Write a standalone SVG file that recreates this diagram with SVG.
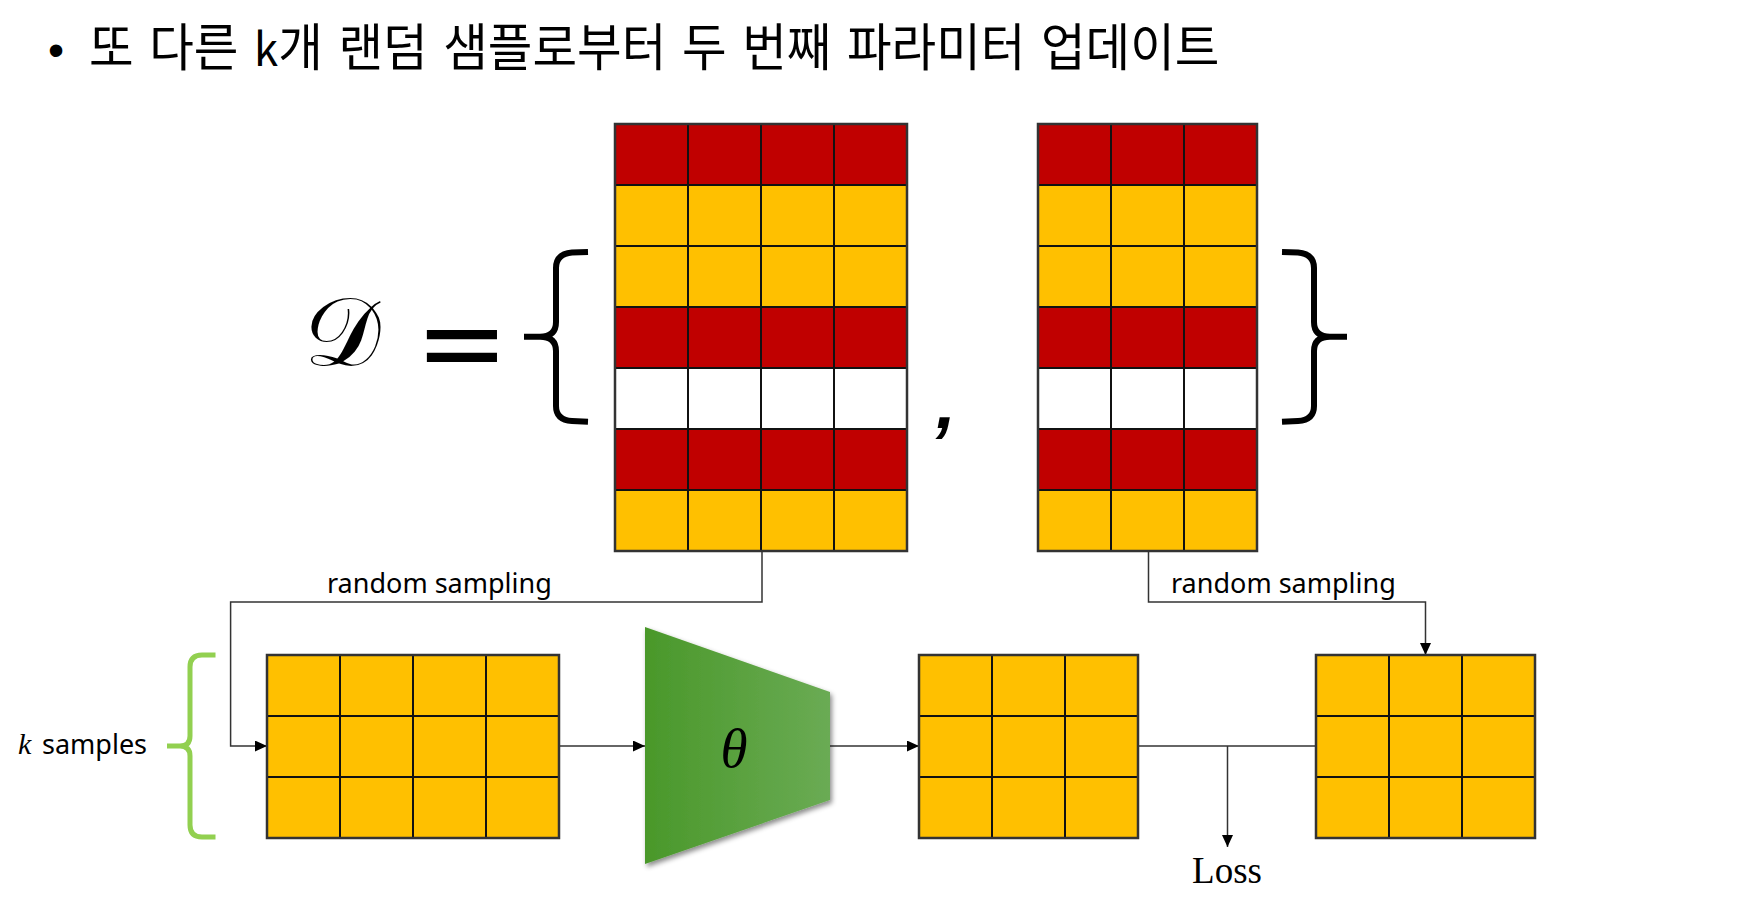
<svg xmlns="http://www.w3.org/2000/svg" width="1764" height="897" viewBox="0 0 1764 897">
<style>
.red{fill:#C00000}.yel{fill:#FFC000}.wht{fill:#FFFFFF}
.grid{stroke:#111;stroke-width:2;fill:none}
.outer{stroke:#333;stroke-width:2.5;fill:none}
.conn{stroke:#333;stroke-width:1.5;fill:none}
.lbl{font-family:"Noto Sans","Liberation Sans",sans-serif;font-size:27px;fill:#000}
.brace{fill:none;stroke:#000;stroke-width:6;stroke-linejoin:round}
.ttl{font-family:"Noto Sans CJK KR","Noto Sans",sans-serif;font-size:51px;fill:#000}
</style>
<defs>
<marker id="arr" markerWidth="12" markerHeight="11" refX="12" refY="5.5" orient="auto" markerUnits="userSpaceOnUse"><path d="M0,0 L12,5.5 L0,11 Z" fill="#000"/></marker>
<linearGradient id="gr" x1="0" y1="0" x2="1" y2="0"><stop offset="0" stop-color="#4A982A"/><stop offset="1" stop-color="#6AAB54"/></linearGradient>
<filter id="sh" x="-10%" y="-10%" width="130%" height="130%"><feDropShadow dx="2" dy="3" stdDeviation="2.5" flood-color="#000" flood-opacity="0.45"/></filter>
</defs>
<rect width="1764" height="897" fill="#fff"/>

<g id="title">
<text x="48" y="66" font-family="Liberation Sans,sans-serif" font-size="46" fill="#000">•</text>
<text class="ttl" x="93.6" y="66" transform="scale(0.951,1)" word-spacing="5">또 다른 <tspan style="font-size:46px">k</tspan>개 랜덤 샘플로부터 두 번째 파라미터 업데이트</text>
</g>

<g id="dataset-label">
<text x="304" y="365" font-family="'DejaVu Serif','Liberation Serif',serif" font-size="96" fill="#000">𝒟</text>
<text x="415" y="381" font-family="'DejaVu Sans',sans-serif" font-size="112" fill="#000">=</text>
<path class="brace" d="M588,252 L572,252.5 Q556,254 556,268 L556,322 Q556,336.7 540,336.7 L524,336.7 M540,336.7 Q556,336.7 556,351 L556,406 Q556,420 572,421 L588,421.7"/>
<text x="936" y="428" font-family="'Liberation Sans',sans-serif" font-weight="bold" font-style="italic" font-size="72" fill="#000">,</text>
<path class="brace" d="M1282,252 L1298,252.5 Q1314,254 1314,268 L1314,322 Q1314,336.7 1330,336.7 L1347,336.7 M1330,336.7 Q1314,336.7 1314,351 L1314,406 Q1314,420 1298,421 L1282,421.7"/>
</g>

<g id="dataset-left">
<rect class="red" x="615" y="124" width="292" height="61"/>
<rect class="yel" x="615" y="185" width="292" height="61"/>
<rect class="yel" x="615" y="246" width="292" height="61"/>
<rect class="red" x="615" y="307" width="292" height="61"/>
<rect class="wht" x="615" y="368" width="292" height="61"/>
<rect class="red" x="615" y="429" width="292" height="61"/>
<rect class="yel" x="615" y="490" width="292" height="61"/>
<path class="grid" d="M688,124V551M761,124V551M834,124V551M615,185H907M615,246H907M615,307H907M615,368H907M615,429H907M615,490H907"/>
<rect class="outer" x="615" y="124" width="292" height="427"/>
</g>

<g id="dataset-right">
<rect class="red" x="1038" y="124" width="219" height="61"/>
<rect class="yel" x="1038" y="185" width="219" height="61"/>
<rect class="yel" x="1038" y="246" width="219" height="61"/>
<rect class="red" x="1038" y="307" width="219" height="61"/>
<rect class="wht" x="1038" y="368" width="219" height="61"/>
<rect class="red" x="1038" y="429" width="219" height="61"/>
<rect class="yel" x="1038" y="490" width="219" height="61"/>
<path class="grid" d="M1111,124V551M1184,124V551M1038,185H1257M1038,246H1257M1038,307H1257M1038,368H1257M1038,429H1257M1038,490H1257"/>
<rect class="outer" x="1038" y="124" width="219" height="427"/>
</g>

<g id="connectors">
<path class="conn" d="M762,551V602H230.6V746H267" marker-end="url(#arr)"/>
<path class="conn" d="M559,746H645" marker-end="url(#arr)"/>
<path class="conn" d="M830,746H919" marker-end="url(#arr)"/>
<path class="conn" d="M1138,746H1316"/>
<path class="conn" d="M1227.5,746V847" marker-end="url(#arr)"/>
<path class="conn" d="M1148.5,551V602H1425.5V655" marker-end="url(#arr)"/>
<text class="lbl" x="327" y="593">random sampling</text>
<text class="lbl" x="1171" y="593">random sampling</text>
</g>

<g id="k-samples">
<path d="M215.5,655 L202,655 Q190,655 190,667 L190,736 Q190,746 180,746 L167,746 M180,746 Q190,746 190,756 L190,825 Q190,837 202,837 L215.5,837" fill="none" stroke="#92D050" stroke-width="5"/>
<text x="18" y="754" class="lbl"><tspan font-family="'Liberation Serif',serif" font-style="italic" font-size="30">k</tspan><tspan x="42">samples</tspan></text>
</g>

<g id="batch-input">
<rect class="yel" x="267" y="655" width="292" height="183"/>
<path class="grid" d="M340,655V838M413,655V838M486,655V838M267,716H559M267,777H559"/>
<rect class="outer" x="267" y="655" width="292" height="183"/>
</g>

<g id="model">
<polygon points="645,627 830,692 830,800 645,864" fill="url(#gr)" filter="url(#sh)"/>
<text x="734" y="767" text-anchor="middle" font-family="'Liberation Serif',serif" font-style="italic" font-size="55" fill="#000">θ</text>
</g>

<g id="prediction">
<rect class="yel" x="919" y="655" width="219" height="183"/>
<path class="grid" d="M992,655V838M1065,655V838M919,716H1138M919,777H1138"/>
<rect class="outer" x="919" y="655" width="219" height="183"/>
</g>

<g id="target">
<rect class="yel" x="1316" y="655" width="219" height="183"/>
<path class="grid" d="M1389,655V838M1462,655V838M1316,716H1535M1316,777H1535"/>
<rect class="outer" x="1316" y="655" width="219" height="183"/>
</g>

<g id="loss">
<text x="1227" y="883" text-anchor="middle" font-family="'Liberation Serif',serif" font-size="37" fill="#000">Loss</text>
</g>
</svg>
